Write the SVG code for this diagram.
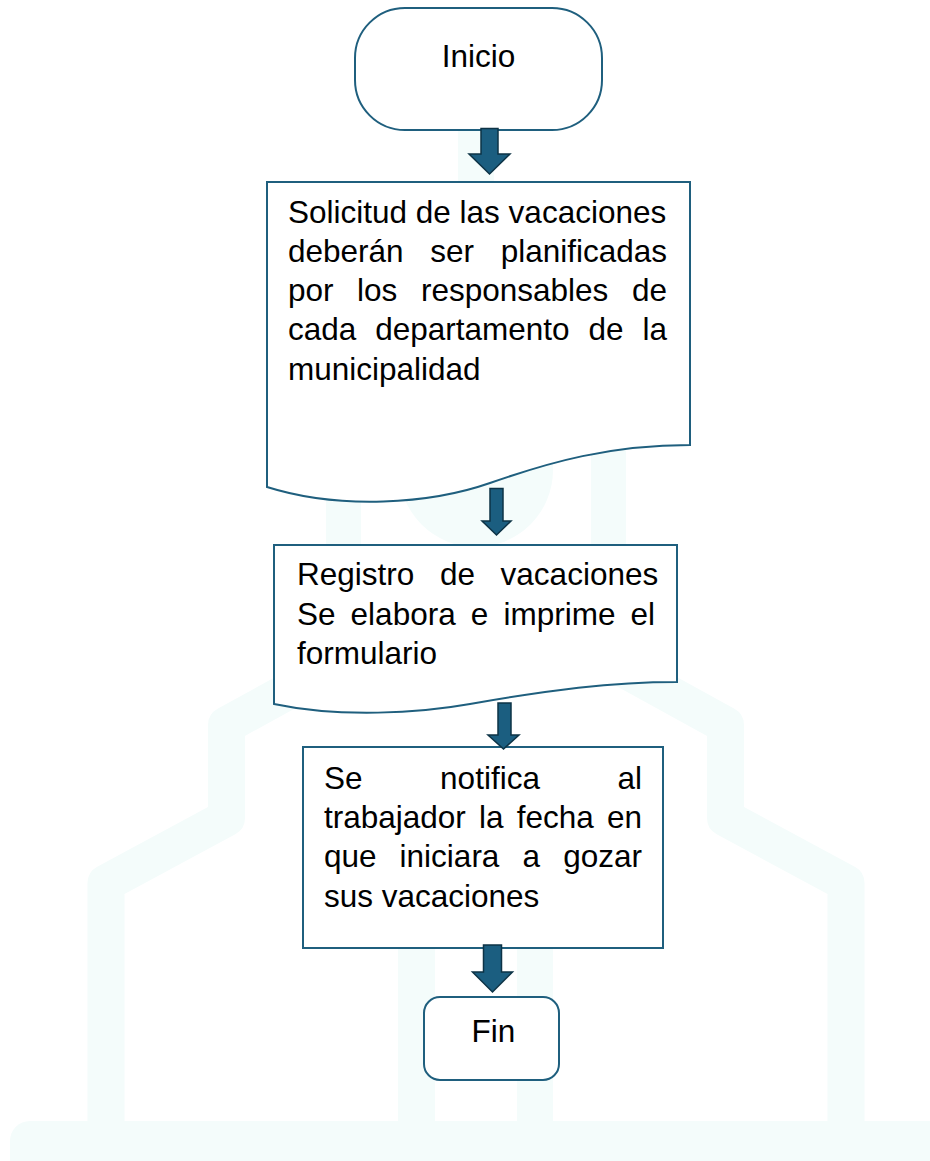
<svg xmlns="http://www.w3.org/2000/svg" width="930" height="1161" viewBox="0 0 930 1161">
<style>
.wm{fill:none;stroke:#f4fcfb;stroke-width:37;stroke-linejoin:round}
.wmf{fill:#f4fcfb}
.node{fill:#ffffff;stroke:#1f5f7e;stroke-width:2}
.t{font-family:"Liberation Sans",Arial,sans-serif;font-size:31.5px;fill:#000000}
.arr{fill:#1b5e80;stroke:#0d3346;stroke-width:1.5;stroke-linejoin:miter}
</style>
<rect x="0" y="0" width="930" height="1161" fill="#ffffff"/>
<g id="watermark">
<rect class="wmf" x="10" y="1121" width="950" height="60" rx="20"/>
<polyline class="wm" points="106,1130 106,883 226.5,818 226.5,725 330,668"/>
<polyline class="wm" points="846,1130 846,883 725.5,818 725.5,725 622,668"/>
<rect class="wmf" x="326" y="430" width="35" height="130"/>
<rect class="wmf" x="591" y="430" width="35" height="130"/>
<circle class="wmf" cx="476" cy="470" r="77"/>
<rect class="wmf" x="398" y="930" width="37" height="200"/>
<rect class="wmf" x="517" y="930" width="36" height="200"/>
<rect class="wmf" x="458" y="100" width="36" height="100"/>
</g>
<g id="inicio">
<rect class="node" x="355" y="8" width="247" height="122" rx="50"/>
<text class="t" x="478.5" y="67" text-anchor="middle">Inicio</text>
</g>
<g id="solicitud">
<path class="node" d="M267,182 H690 V445 C610,445 550,462 490,483 C430,504 340,510 267,487 Z"/>
<text class="t" y="223"><tspan x="288">Solicitud de las vacaciones</tspan></text>
<text class="t" y="262"><tspan x="288">deberán</tspan><tspan x="430.2">ser</tspan><tspan x="500.7">planificadas</tspan></text>
<text class="t" y="301"><tspan x="288">por</tspan><tspan x="357.1">los</tspan><tspan x="421">responsables</tspan><tspan x="632">de</tspan></text>
<text class="t" y="340"><tspan x="288">cada</tspan><tspan x="375.2">departamento</tspan><tspan x="588.5">de</tspan><tspan x="642.5">la</tspan></text>
<text class="t" y="380"><tspan x="288">municipalidad</tspan></text>
</g>
<g id="registro">
<path class="node" d="M274,545 H677 V682 C610,682 550,690 470,704 C420,713 340,718 274,704 Z"/>
<text class="t" y="585"><tspan x="297">Registro</tspan><tspan x="439.9">de</tspan><tspan x="500.6">vacaciones</tspan></text>
<text class="t" y="625"><tspan x="297">Se</tspan><tspan x="350.6">elabora</tspan><tspan x="470.8">e</tspan><tspan x="503.4">imprime</tspan><tspan x="630.5">el</tspan></text>
<text class="t" y="664"><tspan x="297">formulario</tspan></text>
</g>
<g id="notifica">
<rect class="node" x="303" y="747" width="360" height="201"/>
<text class="t" y="789"><tspan x="324">Se</tspan><tspan x="440.1">notifica</tspan><tspan x="617.5">al</tspan></text>
<text class="t" y="828"><tspan x="324">trabajador</tspan><tspan x="479">la</tspan><tspan x="516.7">fecha</tspan><tspan x="607">en</tspan></text>
<text class="t" y="867"><tspan x="324">que</tspan><tspan x="399.6">iniciara</tspan><tspan x="522.5">a</tspan><tspan x="563.2">gozar</tspan></text>
<text class="t" y="907"><tspan x="324">sus vacaciones</tspan></text>
</g>
<g id="fin">
<rect class="node" x="424" y="997" width="135" height="83" rx="16"/>
<text class="t" x="493.5" y="1042" text-anchor="middle">Fin</text>
</g>
<g id="connectors">
<polygon class="arr" points="481,128.5 498,128.5 498,154 510,154 489.5,174 469,154 481,154"/>
<polygon class="arr" points="490,488.5 503,488.5 503,521 511,521 496.5,535 482,521 490,521"/>
<polygon class="arr" points="498,703 511,703 511,735 519,735 503.5,749 488,735 498,735"/>
<polygon class="arr" points="483.5,945 501.5,945 501.5,972 512.5,972 492.5,992 472.5,972 483.5,972"/>
</g>
</svg>
